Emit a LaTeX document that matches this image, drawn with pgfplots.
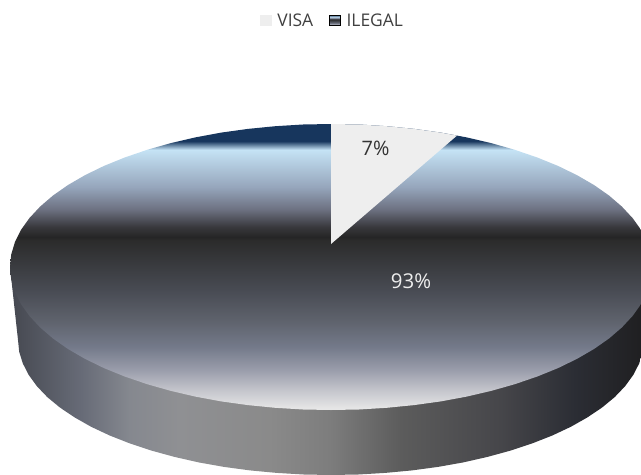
\documentclass[border=0pt]{standalone}
\usepackage{fontspec}
\setmainfont{Open Sans}
\usepackage{pgfplots}
\pgfplotsset{compat=1.18}

\definecolor{visa}{HTML}{EEEEEE}
\definecolor{ta}{HTML}{E6E6E6}
\definecolor{tb}{HTML}{C4C5CC}
\definecolor{tc}{HTML}{9A9DAB}
\definecolor{td}{HTML}{747A8A}
\definecolor{te}{HTML}{5E626C}
\definecolor{tf}{HTML}{484B53}
\definecolor{tg}{HTML}{2B2B2B}
\definecolor{th}{HTML}{252525}
\definecolor{ti}{HTML}{38383C}
\definecolor{tj}{HTML}{6C7080}
\definecolor{tk}{HTML}{96A6BC}
\definecolor{tl}{HTML}{C5E3F5}
\definecolor{tm}{HTML}{17365D}
\definecolor{sa}{HTML}{454850}
\definecolor{sb}{HTML}{686C78}
\definecolor{sc}{HTML}{85888F}
\definecolor{sd}{HTML}{8F9093}
\definecolor{se}{HTML}{8A8A8A}
\definecolor{sf}{HTML}{7D7D7D}
\definecolor{sg}{HTML}{5C5C5C}
\definecolor{sh}{HTML}{46464A}
\definecolor{si}{HTML}{2B2D34}
\definecolor{sj}{HTML}{202022}
% path bbox maps to 25bp..75bp of the shading
\pgfdeclareverticalshading{pietop}{100bp}{
  color(0bp)=(ta);
  color(25.3bp)=(ta);
  color(28.5bp)=(tb);
  color(32bp)=(tc);
  color(36bp)=(td);
  color(40.7bp)=(te);
  color(46bp)=(tf);
  color(54.7bp)=(tg);
  color(55.2bp)=(th);
  color(57bp)=(ti);
  color(60bp)=(tj);
  color(64bp)=(tk);
  color(70.5bp)=(tl);
  color(72bp)=(tm);
  color(75bp)=(tm);
  color(100bp)=(tm)}
\pgfdeclarehorizontalshading{pieside}{100bp}{
  color(0bp)=(sa);
  color(25bp)=(sa);
  color(30.7bp)=(sb);
  color(34.3bp)=(sc);
  color(38.2bp)=(sd);
  color(45.2bp)=(se);
  color(49.9bp)=(sf);
  color(55.4bp)=(sg);
  color(63.2bp)=(sh);
  color(69bp)=(si);
  color(74bp)=(sj);
  color(100bp)=(sj)}

\begin{document}
\begin{tikzpicture}
\begin{axis}[
    scale only axis,
    width=641bp, height=475bp,
    xmin=0, xmax=641,
    ymin=0, ymax=475,
    y dir=reverse,
    hide axis,
    legend columns=2,
    legend style={at={(axis cs:332.5,20.5)}, anchor=center, draw=none, fill=none,
        text=black!75, font=\fontsize{17.5}{20}\selectfont,
        /tikz/every even column/.append style={column sep=14bp}},
]
\addlegendimage{legend image code/.code={\fill[visa] (0bp,-5bp) rectangle (11bp,5bp); \path (15bp,0bp);}}
\addlegendentry{VISA}
\addlegendimage{legend image code/.code={\shade[shading=pietop] (0bp,-5bp) rectangle (11bp,5bp); \path (15bp,0bp);}}
\addlegendentry{ILEGAL}

% side of the disc
\addplot[forget plot, draw=none, shading=pieside] coordinates {
(652,267) (644,340) (642.8,351.8) (639.2,363.4) (633.3,374.9) (625.1,386.2)
(614.7,397.1) (602.1,407.5) (587.4,417.4) (570.8,426.8) (552.3,435.5) (532.2,443.4)
(510.5,450.6) (487.5,456.9) (463.3,462.4) (438,466.9) (412,470.4) (385.3,472.9)
(358.3,474.5) (331,475) (303.7,474.5) (276.7,472.9) (250,470.4) (224,466.9)
(198.7,462.4) (174.5,456.9) (151.5,450.6) (129.8,443.4) (109.7,435.5) (91.2,426.8)
(74.6,417.4) (59.9,407.5) (47.3,397.1) (36.9,386.2) (28.7,374.9) (22.8,363.4)
(19.2,351.8) (18,340) (10,267)
};
% top face, ILEGAL
\addplot[forget plot, draw=none, shading=pietop] coordinates {
(652,267) (650.8,279.5) (647.1,291.8) (641.1,304) (632.6,315.9) (621.9,327.4)
(609,338.5) (594,349) (576.9,358.9) (558,368.1) (537.3,376.5) (515.1,384.1)
(491.5,390.8) (466.7,396.6) (440.8,401.4) (414.1,405.1) (386.7,407.8) (359,409.5)
(331,410) (303,409.5) (275.3,407.8) (247.9,405.1) (221.2,401.4) (195.3,396.6)
(170.5,390.8) (146.9,384.1) (124.7,376.5) (104,368.1) (85.1,358.9) (68,349)
(53,338.5) (40.1,327.4) (29.4,315.9) (20.9,304) (14.9,291.8) (11.2,279.5)
(10,267) (11.2,254.5) (14.9,242.2) (20.9,230) (29.4,218.1) (40.1,206.6)
(53,195.5) (68,185) (85.1,175.1) (104,165.9) (124.7,157.5) (146.9,149.9)
(170.5,143.2) (195.3,137.4) (221.2,132.6) (247.9,128.9) (275.3,126.2) (303,124.5)
(331,124) (359,124.5) (386.7,126.2) (414.1,128.9) (440.8,132.6) (466.7,137.4)
(491.5,143.2) (515.1,149.9) (537.3,157.5) (558,165.9) (576.9,175.1) (594,185)
(609,195.5) (621.9,206.6) (632.6,218.1) (641.1,230) (647.1,242.2) (650.8,254.5)
};
% VISA slice
\addplot[forget plot, draw=none, fill=visa] coordinates {
(331,244) (331,124) (359,124.5) (386.7,126.2) (414.1,128.9) (440.8,132.6) (457,135.6)
};
\node[text=black!80, font=\fontsize{20}{24}\selectfont] at (axis cs:375.5,148) {7\%};
\node[text=visa, font=\fontsize{20.5}{24}\selectfont] at (axis cs:411,281) {93\%};
\end{axis}
% the disc runs past the right edge of the axis
\pgfresetboundingbox
\useasboundingbox (current axis.south west) rectangle (current axis.north east);
\end{tikzpicture}
\end{document}
